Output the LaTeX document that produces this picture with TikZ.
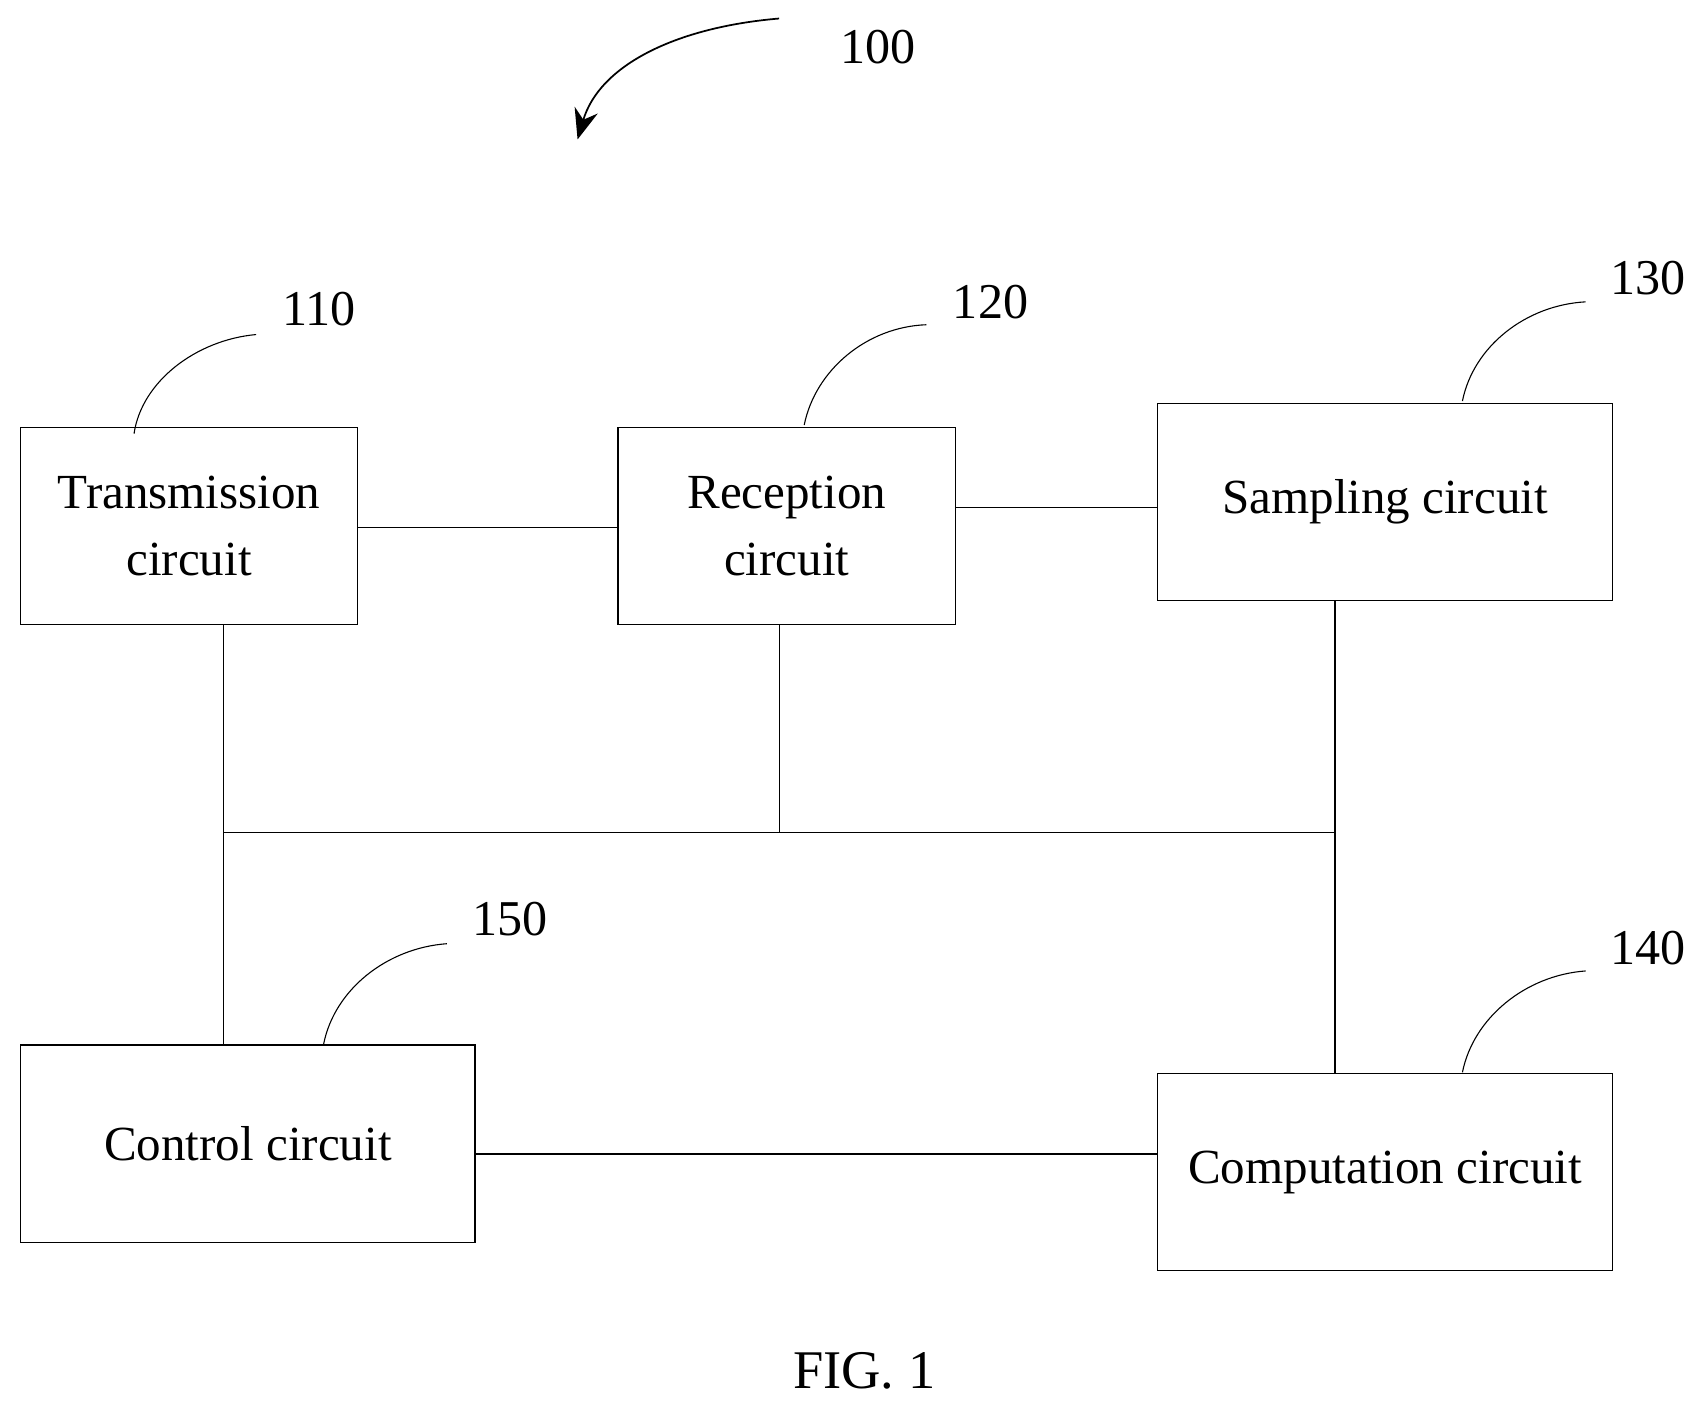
\documentclass[tikz,border=0pt]{standalone}
\usepackage{fontspec}
\setmainfont{Liberation Serif}
\usetikzlibrary{arrows.meta}
\begin{document}
\begin{tikzpicture}[x=0.5pt,y=-0.5pt,
  box/.style={draw,line width=0.6pt,align=center,font=\fontsize{22.5}{31}\selectfont},
  num/.style={font=\fontsize{23}{26}\selectfont},
  wire/.style={line width=0.6pt},
  lead/.style={line width=0.5pt}]
\useasboundingbox (0,0) rectangle (1560,1288);
\draw[box] (19,392) rectangle (328,573) node[midway] (t) {Transmission\\circuit};
\draw[box] (567,392) rectangle (877,573) node[midway] (r) {Reception\\circuit};
\draw[box] (1062,370) rectangle (1480,551) node[midway] (s) {Sampling circuit};
\draw[box] (19,959) rectangle (436,1140) node[midway] (c) {Control circuit};
\draw[box] (1062,985) rectangle (1480,1166) node[midway] (m) {Computation circuit};
\coordinate (ja) at (205,764); \coordinate (jb) at (715,764); \coordinate (jc) at (1225,764);
\draw[wire] (328,484) -- (567,484);
\draw[wire] (877,466) -- (1062,466);
\draw[wire] (205,573) -- (205,959);
\draw[wire] (715,573) -- (jb);
\draw[wire] (1225,551) -- (1225,985);
\draw[wire] (ja) -- (jc);
\draw[wire] (436,1059) -- (1062,1059);
\node[num] (n110) at (293,284) {110};
\node[num] (n120) at (909,277) {120};
\node[num] (n130) at (1512,255) {130};
\node[num] (n150) at (468,843) {150};
\node[num] (n140) at (1512,870) {140};
\node[num] (n100) at (806,43) {100};
\draw[lead] (123,398) .. controls (130,350) and (180,312) .. (235,307);
\draw[lead] (738,390) .. controls (748,340) and (795,300) .. (850,298);
\draw[lead] (1342,368) .. controls (1352,318) and (1400,280) .. (1455,277);
\draw[lead] (297,958) .. controls (307,908) and (355,870) .. (410,866);
\draw[lead] (1342,984) .. controls (1352,934) and (1400,895) .. (1455,891);
\draw[line width=0.8pt,-{Stealth[length=14pt,width=11pt]}] (715,17) .. controls (620,25) and (550,60) .. (530,128);
\node[font=\fontsize{25}{28}\selectfont] (fig) at (793,1258) {FIG. 1};
\end{tikzpicture}
\end{document}
